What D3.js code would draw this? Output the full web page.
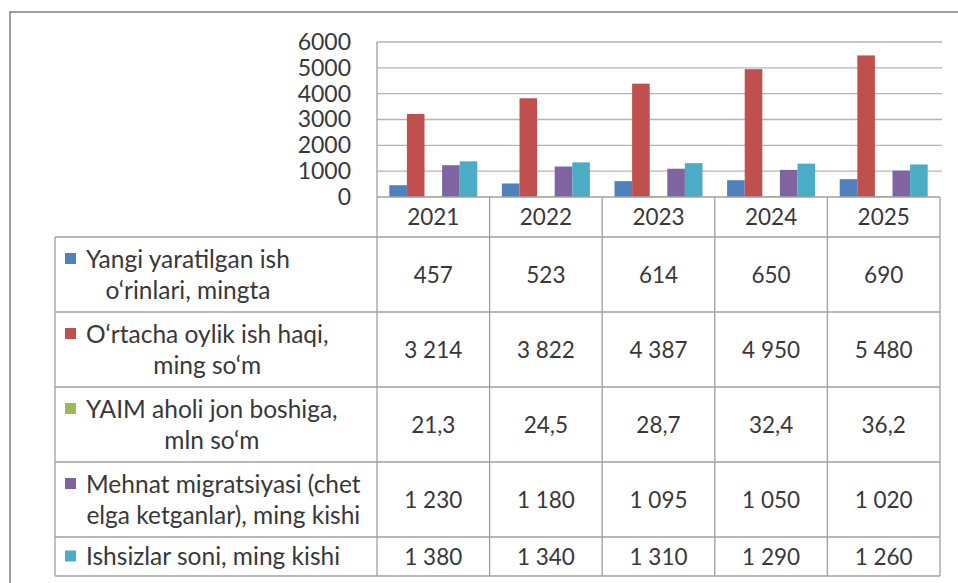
<!DOCTYPE html>
<html>
<head>
<meta charset="utf-8">
<script src="https://cdn.jsdelivr.net/npm/d3@7"></script>
<style>
  body { margin: 0; background: #fff; }
  text { font-family: Lato, "Open Sans", sans-serif; fill: #383838; }
</style>
</head>
<body>
<div id="chart"></div>
<script>
// categories and series
const years = ["2021", "2022", "2023", "2024", "2025"];
const seriesNames = [
    "Yangi yaratilgan ish\no‘rinlari, mingta",
    "O‘rtacha oylik ish haqi,\nming so‘m",
    "YAIM aholi jon boshiga,\nmln so‘m",
    "Mehnat migratsiyasi (chet\nelga ketganlar), ming kishi",
    "Ishsizlar soni, ming kishi"
];
const newJobs = [457, 523, 614, 650, 690];
const avgWage = [3214, 3822, 4387, 4950, 5480];
const gdpPerCapita = [21.3, 24.5, 28.7, 32.4, 36.2];
const laborMigration = [1230, 1180, 1095, 1050, 1020];
const unemployed = [1380, 1340, 1310, 1290, 1260];
const yTicks = [0, 1000, 2000, 3000, 4000, 5000, 6000];

const series = [newJobs, avgWage, gdpPerCapita, laborMigration, unemployed];
const decimals = [0, 0, 1, 0, 0];

const W = 958, H = 583;
const plotLeft = 377, plotRight = 940, plotTop = 42, axisY = 197;
const tableLeft = 55, headerH = 40;
const labelSize = 24.5, numSize = 22.5;

const locale = d3.formatLocale({ decimal: ",", thousands: "\u00a0", grouping: [3], currency: ["", ""] });
const fmtInt = locale.format(",d");
const fmtDec = locale.format(",.1f");

const color = d3.scaleOrdinal()
    .domain(d3.range(series.length))
    .range(["#4f81bd", "#c0504d", "#9bbb59", "#8064a2", "#4bacc6"]);

const svg = d3.select("#chart")
    .append("svg")
    .attr("width", W)
    .attr("height", H)

// outer chart frame (only top and left visible in the crop)
svg.append("path")
    .attr("d", `M10,${H + 2}V12H${W + 2}`)
    .attr("fill", "none")
    .attr("stroke", "#7f7f7f")
    .attr("stroke-width", 1.5)

const x = d3.scaleBand()
    .domain(years)
    .range([plotLeft, plotRight])

const xs = d3.scaleBand()
    .domain(d3.range(series.length))
    .range([0, x.bandwidth()])
    .paddingOuter(0.7)

const y = d3.scaleLinear()
    .domain([0, 6000])
    .range([axisY, plotTop])

// gridlines
svg.append("g")
    .selectAll("line")
    .data(yTicks.filter(d => d > 0))
    .join("line")
    .attr("x1", plotLeft)
    .attr("x2", plotRight + 2)
    .attr("y1", d => y(d))
    .attr("y2", d => y(d))
    .attr("stroke", "#b4b4b4")
    .attr("stroke-width", 1.3)

// y axis labels
const yAxis = svg.append("g")
    .attr("transform", `translate(${plotLeft - 26},0)`)
    .call(d3.axisLeft(y).tickValues(yTicks).tickSize(0).tickPadding(0).tickFormat(d3.format("d")))
yAxis.select(".domain").remove()
yAxis.selectAll("text")
    .style("font-size", "23px")
    .attr("fill", "#383838")
    .attr("font-family", "Lato")

// bars
svg.append("g")
    .selectAll("g")
    .data(series)
    .join("g")
    .attr("fill", (d, i) => color(i))
    .selectAll("rect")
    .data((d, i) => d.map((v, j) => ({ s: i, year: years[j], v: v })))
    .join("rect")
    .attr("x", d => x(d.year) + xs(d.s))
    .attr("width", xs.bandwidth())
    .attr("y", d => y(d.v))
    .attr("height", d => axisY - y(d.v))

// data table layout
const lines = seriesNames.map(n => n.split("\n"));
const rowH = lines.map(l => 39 + 36 * (l.length - 1));
const rowTop = [];
let acc = axisY + headerH;
rowH.forEach(h => { rowTop.push(acc); acc += h; });
const tableBottom = acc;

const grid = svg.append("g")
    .attr("stroke", "#a0a0a0")
    .attr("stroke-width", 1.3)

// header top = category axis
grid.append("line")
    .attr("x1", plotLeft).attr("x2", plotRight)
    .attr("y1", axisY).attr("y2", axisY)
// row separators
grid.selectAll(".hrow")
    .data(rowTop.concat([tableBottom]))
    .join("line")
    .attr("class", "hrow")
    .attr("x1", tableLeft).attr("x2", plotRight)
    .attr("y1", d => d).attr("y2", d => d)
// column separators
grid.selectAll(".vcol")
    .data(years.map(d => x(d)).concat([plotRight]))
    .join("line")
    .attr("class", "vcol")
    .attr("x1", d => d).attr("x2", d => d)
    .attr("y1", (d, i) => i === 0 ? plotTop : axisY)
    .attr("y2", tableBottom)
grid.append("line")
    .attr("x1", tableLeft).attr("x2", tableLeft)
    .attr("y1", axisY + headerH).attr("y2", tableBottom)

// year headers
svg.append("g")
    .selectAll("text")
    .data(years)
    .join("text")
    .attr("x", d => x(d) + x.bandwidth() / 2)
    .attr("y", axisY + headerH / 2)
    .attr("dy", "0.36em")
    .attr("text-anchor", "middle")
    .style("font-size", numSize + "px")
    .text(d => d)

// legend cells
const textLeft = 86, lineGap = 31;
const rows = svg.append("g")
    .selectAll("g")
    .data(lines)
    .join("g")

rows.each(function (l, i) {
    const g = d3.select(this);
    const mid = rowTop[i] + rowH[i] / 2;
    const first = mid - (l.length - 1) * lineGap / 2;
    const t = g.selectAll("text")
        .data(l)
        .join("text")
        .attr("y", (d, k) => first + k * lineGap)
        .attr("dy", "0.36em")
        .attr("text-anchor", "middle")
        .style("font-size", labelSize + "px")
        .text(d => d);
    let maxW = 0;
    t.each(function () { maxW = Math.max(maxW, this.getComputedTextLength()); });
    t.attr("x", textLeft + maxW / 2);
    g.append("rect")
        .attr("x", 65)
        .attr("y", first - 6)
        .attr("width", 11)
        .attr("height", 11)
        .attr("fill", color(i));
});

// values
svg.append("g")
    .selectAll("g")
    .data(series)
    .join("g")
    .selectAll("text")
    .data((d, i) => d.map((v, j) => ({ s: i, year: years[j], v: v })))
    .join("text")
    .attr("x", d => x(d.year) + x.bandwidth() / 2)
    .attr("y", d => rowTop[d.s] + rowH[d.s] / 2)
    .attr("dy", "0.36em")
    .attr("text-anchor", "middle")
    .style("font-size", numSize + "px")
    .text(d => decimals[d.s] ? fmtDec(d.v) : fmtInt(d.v))
</script>
</body>
</html>
